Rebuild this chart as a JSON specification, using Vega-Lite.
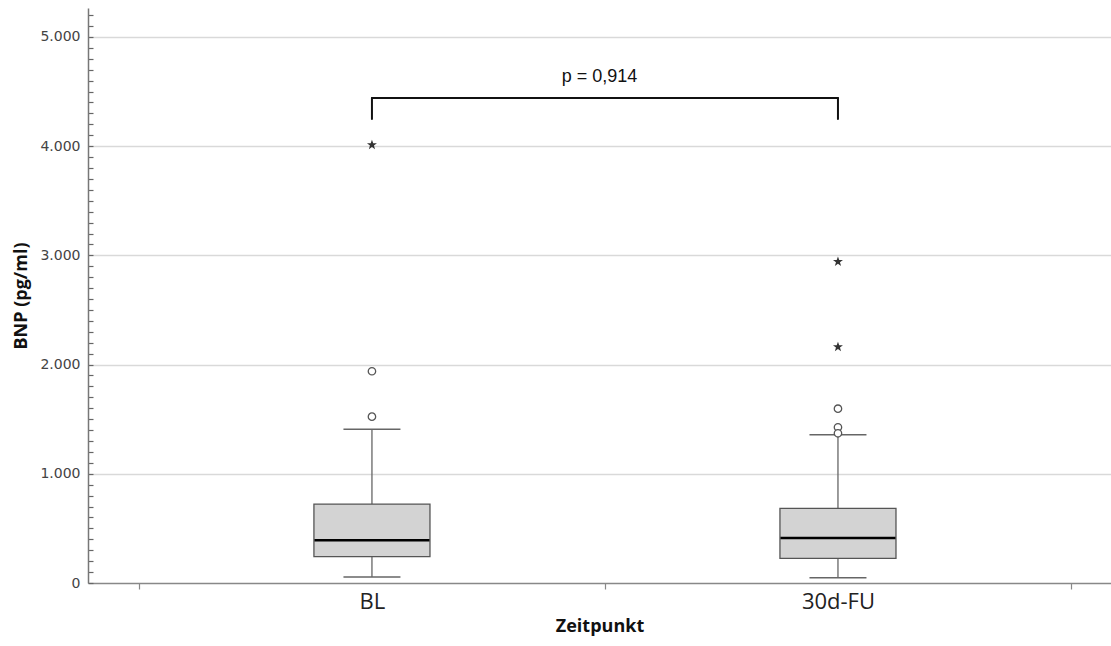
{
  "$schema": "https://vega.github.io/schema/vega-lite/v6.json",
  "width": 1023,
  "height": 575,
  "autosize": {"type": "none"},
  "padding": {"left": 88, "top": 8, "right": 0, "bottom": 63},
  "background": "white",
  "config": {"view": {"stroke": null}},
  "datasets": {
    "summary": [
      {"Zeitpunkt": "BL", "lower": 55, "q1": 241, "median": 391, "q3": 723, "upper": 1407},
      {"Zeitpunkt": "30d-FU", "lower": 49, "q1": 226, "median": 412, "q3": 684, "upper": 1358}
    ],
    "outliers": [
      {"Zeitpunkt": "BL", "BNP": 1939, "typ": "mild"},
      {"Zeitpunkt": "BL", "BNP": 1523, "typ": "mild"},
      {"Zeitpunkt": "BL", "BNP": 4011, "typ": "extrem"},
      {"Zeitpunkt": "30d-FU", "BNP": 1596, "typ": "mild"},
      {"Zeitpunkt": "30d-FU", "BNP": 1426, "typ": "mild"},
      {"Zeitpunkt": "30d-FU", "BNP": 1371, "typ": "mild"},
      {"Zeitpunkt": "30d-FU", "BNP": 2942, "typ": "extrem"},
      {"Zeitpunkt": "30d-FU", "BNP": 2161, "typ": "extrem"}
    ],
    "bracket": [
      {"von": "BL", "bis": "30d-FU", "oben": 4441, "unten": 4249, "text": "p = 0,914", "texty": 4634}
    ]
  },
  "layer": [
    {
      "data": {"name": "summary"},
      "mark": {"type": "rule", "color": "#666666", "strokeWidth": 1.3},
      "encoding": {
        "x": {
          "field": "Zeitpunkt", "type": "nominal",
          "scale": {"type": "band", "domain": ["BL", "30d-FU"], "paddingInner": 0, "paddingOuter": 0.0976, "align": 0.56},
          "axis": {
            "title": "Zeitpunkt", "labelAngle": 0, "tickBand": "extent",
            "domainColor": "#888888", "domainWidth": 1.5,
            "tickColor": "#888888", "tickWidth": 1.2, "tickSize": 6,
            "labelFont": "Open Sans", "labelFontSize": 22, "labelColor": "#222222", "labelPadding": 2,
            "titleFont": "Open Sans", "titleFontSize": 18, "titleFontWeight": "bold", "titleColor": "#111111", "titlePadding": 5,
            "grid": false
          }
        },
        "y": {
          "field": "lower", "type": "quantitative",
          "scale": {"domain": [0, 5265], "nice": false, "zero": true},
          "axis": {
            "title": "BNP (pg/ml)",
            "values": [0,100,200,300,400,500,600,700,800,900,1000,1100,1200,1300,1400,1500,1600,1700,1800,1900,2000,2100,2200,2300,2400,2500,2600,2700,2800,2900,3000,3100,3200,3300,3400,3500,3600,3700,3800,3900,4000,4100,4200,4300,4400,4500,4600,4700,4800,4900,5000,5100,5200],
            "tickCount": 100,
            "labelExpr": "datum.value % 1000 === 0 ? replace(format(datum.value, ','), ',', '.') : ''",
            "labelOverlap": false,
            "grid": true,
            "gridColor": {"condition": {"test": "datum.value % 1000 === 0 && datum.value > 0", "value": "#d9d9d9"}, "value": "transparent"},
            "gridWidth": 1.5,
            "domainColor": "#777777", "domainWidth": 1.5,
            "tickColor": "#666666", "tickWidth": 1.2, "tickSize": -5,
            "labelFont": "DejaVu Sans", "labelFontSize": 14, "labelColor": "#444444", "labelPadding": 13,
            "titleFont": "Open Sans", "titleFontSize": 18, "titleFontWeight": "bold", "titleColor": "#111111", "titlePadding": 9
          }
        },
        "y2": {"field": "upper"}
      }
    },
    {
      "data": {"name": "summary"},
      "mark": {"type": "tick", "color": "#666666", "thickness": 1.5, "size": 57, "orient": "horizontal", "opacity": 1},
      "encoding": {
        "x": {"field": "Zeitpunkt", "type": "nominal"},
        "y": {"field": "lower", "type": "quantitative"}
      }
    },
    {
      "data": {"name": "summary"},
      "mark": {"type": "tick", "color": "#666666", "thickness": 1.5, "size": 57, "orient": "horizontal", "opacity": 1},
      "encoding": {
        "x": {"field": "Zeitpunkt", "type": "nominal"},
        "y": {"field": "upper", "type": "quantitative"}
      }
    },
    {
      "data": {"name": "summary"},
      "mark": {"type": "bar", "fill": "#d3d3d3", "stroke": "#555555", "strokeWidth": 1.3, "width": {"band": 0.249}, "orient": "vertical", "opacity": 1},
      "encoding": {
        "x": {"field": "Zeitpunkt", "type": "nominal"},
        "y": {"field": "q1", "type": "quantitative"},
        "y2": {"field": "q3"}
      }
    },
    {
      "data": {"name": "summary"},
      "mark": {"type": "tick", "color": "#000000", "thickness": 2.5, "size": 115, "orient": "horizontal", "opacity": 1},
      "encoding": {
        "x": {"field": "Zeitpunkt", "type": "nominal"},
        "y": {"field": "median", "type": "quantitative"}
      }
    },
    {
      "data": {"name": "outliers"},
      "transform": [{"filter": "datum.typ === 'mild'"}],
      "mark": {"type": "point", "shape": "circle", "filled": false, "fill": "white", "fillOpacity": 1, "stroke": "#555555", "strokeWidth": 1.3, "size": 55, "opacity": 1},
      "encoding": {
        "x": {"field": "Zeitpunkt", "type": "nominal"},
        "y": {"field": "BNP", "type": "quantitative"}
      }
    },
    {
      "data": {"name": "outliers"},
      "transform": [{"filter": "datum.typ === 'extrem'"}],
      "mark": {"type": "point", "shape": "M0,-1L0.24,-0.33L0.95,-0.31L0.38,0.12L0.59,0.81L0,0.4L-0.59,0.81L-0.38,0.12L-0.95,-0.31L-0.24,-0.33Z", "filled": true, "color": "#333333", "size": 110, "opacity": 1},
      "encoding": {
        "x": {"field": "Zeitpunkt", "type": "nominal"},
        "y": {"field": "BNP", "type": "quantitative"}
      }
    },
    {
      "data": {"name": "bracket"},
      "mark": {"type": "rule", "color": "#111111", "strokeWidth": 2, "strokeCap": "round"},
      "encoding": {
        "x": {"field": "von", "type": "nominal"},
        "x2": {"field": "bis"},
        "y": {"field": "oben", "type": "quantitative"}
      }
    },
    {
      "data": {"name": "bracket"},
      "mark": {"type": "rule", "color": "#111111", "strokeWidth": 2, "strokeCap": "round"},
      "encoding": {
        "x": {"field": "von", "type": "nominal"},
        "y": {"field": "unten", "type": "quantitative"},
        "y2": {"field": "oben"}
      }
    },
    {
      "data": {"name": "bracket"},
      "mark": {"type": "rule", "color": "#111111", "strokeWidth": 2, "strokeCap": "round"},
      "encoding": {
        "x": {"field": "bis", "type": "nominal"},
        "y": {"field": "unten", "type": "quantitative"},
        "y2": {"field": "oben"}
      }
    },
    {
      "data": {"name": "bracket"},
      "mark": {"type": "text", "font": "Liberation Sans", "fontSize": 18, "color": "#111111", "align": "center", "baseline": "middle"},
      "encoding": {
        "y": {"field": "texty", "type": "quantitative"},
        "text": {"field": "text"}
      }
    }
  ]
}
